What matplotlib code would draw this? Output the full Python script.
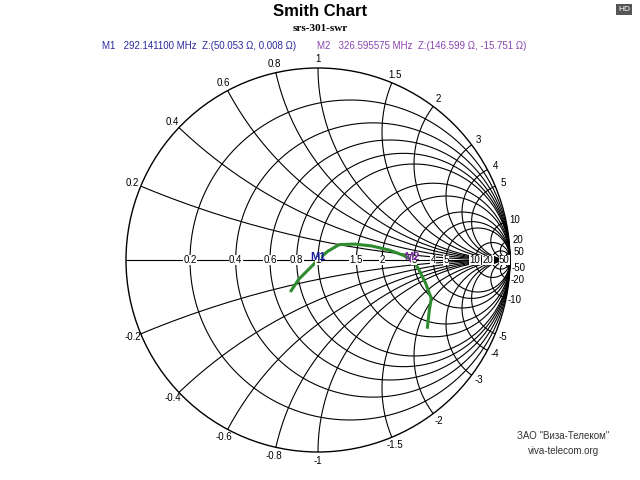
import numpy as np
import matplotlib
matplotlib.use("Agg")
import matplotlib.pyplot as plt
from matplotlib.patches import Circle

plt.rcParams['font.family'] = ['Liberation Sans', 'DejaVu Sans']

# data: reflection coefficient trace (real, imag)
gamma_re = [-0.14, -0.10, -0.05, 0.0, 0.05, 0.11, 0.19, 0.28, 0.37, 0.44, 0.49, 0.52, 0.56, 0.59, 0.58, 0.57]
gamma_im = [-0.16, -0.10, -0.05, 0.0, 0.045, 0.08, 0.083, 0.073, 0.052, 0.026, 0.0, -0.04, -0.12, -0.20, -0.26, -0.35]
r_values = [0.2, 0.4, 0.6, 0.8, 1, 1.5, 2, 3, 4, 5, 10, 20, 50]
x_values = [0.2, 0.4, 0.6, 0.8, 1, 1.5, 2, 3, 4, 5, 10, 20, 50]
r_labels = ["0.2", "0.4", "0.6", "0.8", "1", "1.5", "2", "3", "4", "5", "10", "20", "50"]
markers = [("M1", 0.0, 0.0, "#1a1aa0"), ("M2", 0.49, 0.0, "#7a2ea0")]

cx, cy, R = 318, 260, 192
fig = plt.figure(figsize=(6.4, 4.8), dpi=100)
ax = fig.add_axes([0, 0, 1, 1])
ax.set_xlim(-cx / R, (640 - cx) / R)
ax.set_ylim((cy - 480) / R, cy / R)
ax.axis("off")

unit = Circle((0, 0), 1, fill=False, lw=1.0, color="black")
ax.add_patch(unit)
clip = Circle((0, 0), 1, transform=ax.transData)
t = np.linspace(0, 2 * np.pi, 600)
for r in r_values:
    c = r / (r + 1); rad = 1 / (r + 1)
    ax.plot(c + rad * np.cos(t), rad * np.sin(t), color="black", lw=0.8)
for x in x_values:
    for s in (1, -1):
        rad = 1 / x
        ln, = ax.plot(1 + rad * np.cos(t), s * rad + rad * np.sin(t), color="black", lw=0.8)
        ln.set_clip_path(clip)
ax.plot([-1, 1], [0, 0], color="black", lw=0.8)

# resistance labels on axis
for r, lab in zip(r_values, r_labels):
    g = (r - 1) / (r + 1)
    if r == 20:
        g -= 0.02
    if r == 50:
        g += 0.01
    ax.text(g, 0, lab, fontsize=7, ha="center", va="center",
            bbox=dict(fc="white", ec="none", pad=0.3))

# reactance labels outside circle
for x in x_values:
    for s in (1, -1):
        z = complex(0, s * x)
        g = (z - 1) / (z + 1)
        a = np.angle(g)
        rr = 1.045
        lab = ("%g" % x) if s > 0 else ("-%g" % x)
        ax.text(rr * np.cos(a), rr * np.sin(a), lab, fontsize=7, ha="center", va="center")

ax.plot(gamma_re, gamma_im, color="#2e8b2e", lw=2.2)
for name, gx, gy, col in markers:
    ax.plot(gx, gy, marker="D", ms=3, color=col)
    ax.text(gx, gy - 0.01, name, color=col, fontsize=8, fontweight="bold",
            ha="center", va="bottom")

fig.text(0.5, 0.977, "Smith Chart", ha="center", va="center", fontsize=12, fontweight="bold")
fig.text(0.5, 0.94, "srs-301-swr", ha="center", va="center", fontsize=8,
         family="Liberation Serif", fontweight="bold")
fig.text(0.16, 0.905, "M1   292.141100 MHz  Z:(50.053 \u03a9, 0.008 \u03a9)", color="#2a2aa0",
         fontsize=7, va="center")
fig.text(0.495, 0.905, "M2   326.595575 MHz  Z:(146.599 \u03a9, -15.751 \u03a9)", color="#8a44b0",
         fontsize=7, va="center")
fig.text(0.985, 0.98, "HD", fontsize=6, color="white", ha="right", va="center",
         bbox=dict(fc="#555555", ec="none", pad=1.5))
fig.text(0.88, 0.085, "ЗАО \"Виза-Телеком\"", fontsize=7, color="#333333", ha="center")
fig.text(0.88, 0.055, "viva-telecom.org", fontsize=7, color="#333333", ha="center")
fig.savefig("out.png", dpi=100, facecolor="white")
